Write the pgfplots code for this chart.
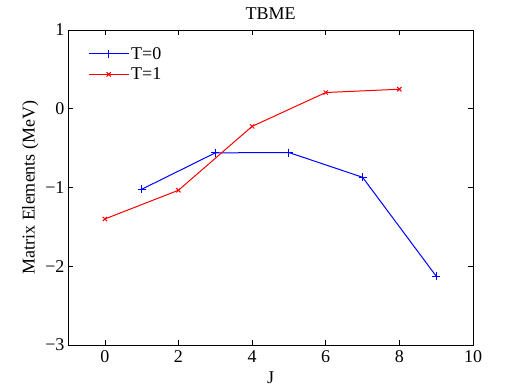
\documentclass[border=0pt]{standalone}
\usepackage{fontspec}
\setmainfont{Liberation Serif}
\usepackage{pgfplots}
\pgfplotsset{compat=1.18}
\begin{document}
\begin{tikzpicture}[x=1pt,y=1pt]
\useasboundingbox (0,0) rectangle (518,390);
\begin{axis}[
  at={(68pt,45pt)}, anchor=south west,
  scale only axis, width=405pt, height=315pt,
  xmin=-1, xmax=10, ymin=-3, ymax=1,
  xtick={0,2,4,6,8,10},
  ytick={-3,-2,-1,0,1},
  yticklabels={−3,−2,−1,0,1},
  tick align=inside, xtick pos=both, ytick pos=both,
  major tick length=5pt,
  axis line style={line width=0.8pt},
  tick style={line width=0.6pt, black},
  /pgf/number format/assume math mode=true,
  every tick label/.append style={font=\fontsize{18}{20}\selectfont},
  xticklabel style={yshift=-2pt},
  title={TBME},
  title style={font=\fontsize{18}{20}\selectfont, yshift=1pt},
  xlabel={J},
  ylabel={Matrix Elements (MeV)},
  label style={font=\fontsize{18}{20}\selectfont},
  xlabel style={yshift=-2pt},
  ylabel style={yshift=0pt},
  legend style={at={(17pt,302pt)}, anchor=north west, draw=none, fill=none,
    font=\fontsize{18}{20}\selectfont, row sep=3pt},
  legend cell align=left,
  legend image code/.code={
    \draw[#1, mark repeat=2, mark phase=2] plot coordinates {(0pt,0pt) (20pt,0pt) (40pt,0pt)};
  },
]
\addplot[blue, line width=1pt, mark=+, mark size=4pt, mark options={solid, line width=1pt}]
  coordinates {(1,-1.023) (3,-0.56) (5,-0.556) (7,-0.87) (9,-2.126)};
\addlegendentry{T=0}
\addplot[red, line width=1pt, mark=x, mark size=3pt, mark options={solid, line width=1pt}]
  coordinates {(0,-1.40) (2,-1.035) (4,-0.224) (6,0.206) (8,0.248)};
\addlegendentry{T=1}
\end{axis}
\end{tikzpicture}
\end{document}
